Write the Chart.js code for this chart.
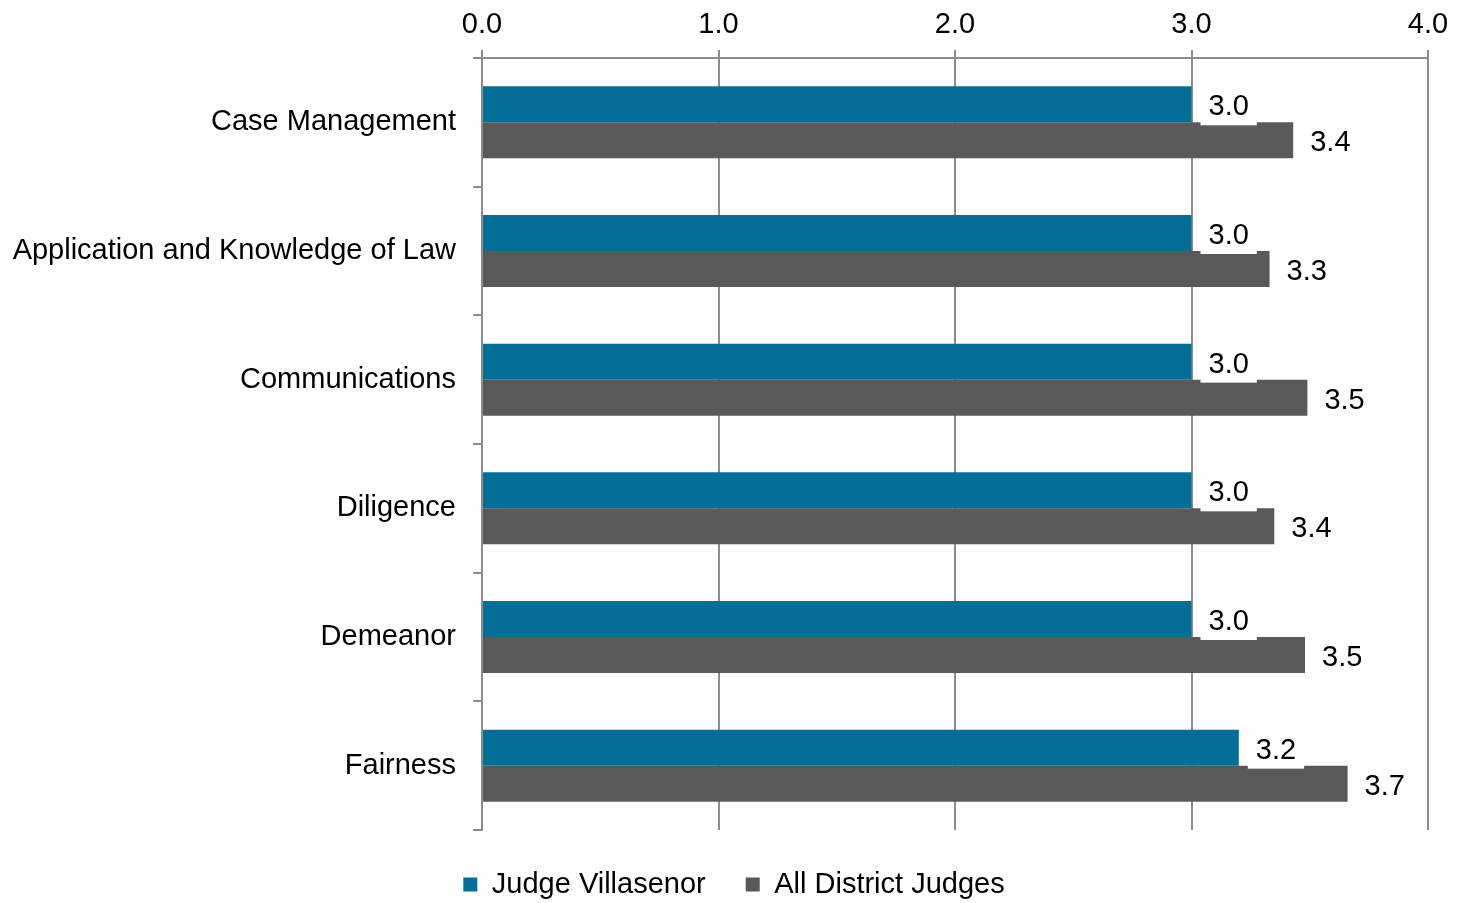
<!DOCTYPE html>
<html>
<head>
<meta charset="utf-8">
<script src="https://cdn.jsdelivr.net/npm/chart.js@4/dist/chart.umd.min.js"></script>
<style>
  html, body { margin: 0; padding: 0; background: #fff; }
  #wrap { width: 1468px; height: 903px; position: relative; }
</style>
</head>
<body>
<div id="wrap"><canvas id="ratingChart"></canvas></div>
<script>
// Data kategori dan nilai
const categories = [
    "Case Management",
    "Application and Knowledge of Law",
    "Communications",
    "Diligence",
    "Demeanor",
    "Fairness",
];
const judgeValues = [3.0, 3.0, 3.0, 3.0, 3.0, 3.2];
const allJudgeValues = [3.43, 3.33, 3.49, 3.35, 3.48, 3.66];
const xTickLabels = ["0.0", "1.0", "2.0", "3.0", "4.0"];

const FONT = "'Liberation Sans', Arial, sans-serif";
const GRID = "#8c8c8c";

// Plugin label nilai dengan kotak putih
const valueLabels = {
    id: "valueLabels",
    afterDatasetsDraw(chart) {
        const ctx = chart.ctx;
        ctx.save();
        ctx.font = "29px " + FONT;
        ctx.textBaseline = "middle";
        ctx.textAlign = "left";
        chart.data.datasets.forEach((ds, i) => {
            const meta = chart.getDatasetMeta(i);
            meta.data.forEach((bar, j) => {
                const text = ds.data[j].toFixed(1);
                const w = ctx.measureText(text).width;
                const x = bar.x + 17;
                const y = bar.y;
                ctx.fillStyle = "#fff";
                ctx.fillRect(x - 8, y - 15, w + 16, 36);
                ctx.fillStyle = "#000";
                ctx.fillText(text, x, y + 3);
            });
        });
        ctx.restore();
    },
};

new Chart(document.getElementById("ratingChart"), {
    type: "bar",
    data: {
        labels: categories,
        datasets: [
            {
                label: "Judge Villasenor",
                data: judgeValues,
                backgroundColor: "#046f96",
                categoryPercentage: 0.56,
                barPercentage: 1.0,
            },
            {
                label: "All District Judges",
                data: allJudgeValues,
                backgroundColor: "#595959",
                categoryPercentage: 0.56,
                barPercentage: 1.0,
            },
        ],
    },
    options: {
        indexAxis: "y",
        responsive: true,
        maintainAspectRatio: false,
        animation: false,
        layout: { padding: { left: 0, right: 0, top: 0, bottom: -6 } },
        plugins: {
            legend: {
                display: true,
                position: "bottom",
                labels: {
                    boxWidth: 14,
                    boxHeight: 14,
                    padding: 40,
                    color: "#000",
                    font: { family: FONT, size: 29 },
                },
            },
            tooltip: { enabled: false },
        },
        scales: {
            x: {
                position: "top",
                min: 0,
                max: 4,
                afterFit: (scale) => {
                    scale.height = 58;
                    scale.paddingRight = 40;
                },
                ticks: {
                    stepSize: 1,
                    padding: 8,
                    color: "#000",
                    font: { family: FONT, size: 29 },
                    callback: (v) => xTickLabels[v],
                },
                grid: { color: GRID, lineWidth: 2, tickLength: 8 },
                border: { color: GRID, width: 2 },
            },
            y: {
                afterFit: (scale) => { scale.width = 482; },
                ticks: {
                    padding: 17,
                    color: "#000",
                    font: { family: FONT, size: 29 },
                },
                grid: {
                    offset: true,
                    drawOnChartArea: false,
                    color: GRID,
                    lineWidth: 2,
                    tickLength: 9,
                },
                border: { color: GRID, width: 2 },
            },
        },
    },
    plugins: [valueLabels],
});
</script>
</body>
</html>
